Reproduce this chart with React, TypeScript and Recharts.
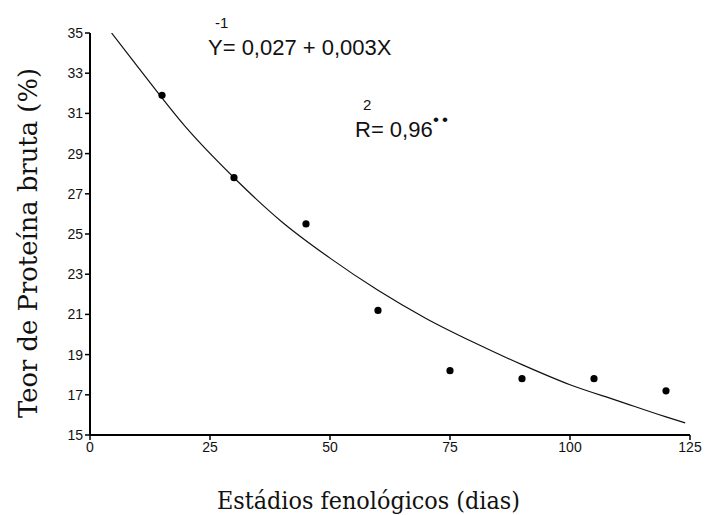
import { ComposedChart, Line, Scatter, XAxis, YAxis } from 'recharts'

// observed points (dias, % PB)
const diasObs = [15, 30, 45, 60, 75, 90, 105, 120]
const pbObs = [31.9, 27.8, 25.5, 21.2, 18.2, 17.8, 17.8, 17.2]

// fitted curve
const diasCurva = [4.5, 10, 20, 30, 40, 50, 60, 70, 80, 90, 100, 110, 120, 124]
const pbCurva = [35.0, 33.3, 30.3, 27.8, 25.6, 23.8, 22.2, 20.8, 19.6, 18.5, 17.5, 16.7, 15.9, 15.6]

const xTicks = [0, 25, 50, 75, 100, 125]
const yTicks = [15, 17, 19, 21, 23, 25, 27, 29, 31, 33, 35]

const pontos = diasObs.map((x, i) => ({ x, y: pbObs[i] }))
const curva = diasCurva.map((x, i) => ({ x, y: pbCurva[i] }))

const tickFont = {
	fontSize: 14,
	fontFamily: "'Liberation Sans Narrow', 'Liberation Sans', Arial",
	fill: '#111',
}

const Ponto = (props: any) => <circle cx={props.cx} cy={props.cy} r={3.6} fill='#000' />

export default function App() {
	return (
		<div style={{ position: 'absolute', left: 0, top: 0, width: 707, height: 515, background: '#fff' }}>
			<ComposedChart width={707} height={515} margin={{ top: 33, right: 17, bottom: 0, left: 0 }}>
				<XAxis
					type='number'
					dataKey='x'
					domain={[0, 125]}
					ticks={xTicks}
					allowDataOverflow
					height={80}
					axisLine={{ stroke: '#000', strokeWidth: 2 }}
					tickLine={{ stroke: '#000', strokeWidth: 1.5 }}
					tickSize={5}
					tick={tickFont}
				/>
				<YAxis
					type='number'
					dataKey='y'
					domain={[15, 35]}
					ticks={yTicks}
					allowDataOverflow
					width={90}
					axisLine={{ stroke: '#000', strokeWidth: 2 }}
					tickLine={{ stroke: '#000', strokeWidth: 1.5 }}
					tickSize={5}
					tick={tickFont}
				/>
				<Line
					data={curva}
					dataKey='y'
					type='monotone'
					stroke='#111'
					strokeWidth={1.2}
					dot={false}
					isAnimationActive={false}
				/>
				<Scatter data={pontos} dataKey='y' shape={Ponto} isAnimationActive={false} />
			</ComposedChart>
			<svg
				width={707}
				height={515}
				style={{ position: 'absolute', left: 0, top: 0, pointerEvents: 'none' }}
			>
				<g fontFamily="'Liberation Sans Narrow', 'Liberation Sans', Arial" fill='#111'>
					<text x={215} y={28} fontSize={15}>-1</text>
					<text x={208} y={55} fontSize={22}>Y= 0,027 + 0,003X</text>
					<text x={363} y={110} fontSize={15}>2</text>
					<text x={355} y={137} fontSize={22}>R= 0,96</text>
					<text x={433} y={125} fontSize={17} letterSpacing={3}>••</text>
				</g>
				<g fontFamily="'DejaVu Serif', 'Liberation Serif', serif" fill='#111'>
					<text
						x={217}
						y={509}
						fontSize={24}
						textLength={303}
						lengthAdjust='spacingAndGlyphs'
					>
						Estádios fenológicos (dias)
					</text>
					<text
						x={0}
						y={0}
						fontSize={26}
						textLength={350}
						lengthAdjust='spacingAndGlyphs'
						transform='translate(37, 418) rotate(-90)'
					>
						Teor de Proteína bruta (%)
					</text>
				</g>
			</svg>
		</div>
	)
}
